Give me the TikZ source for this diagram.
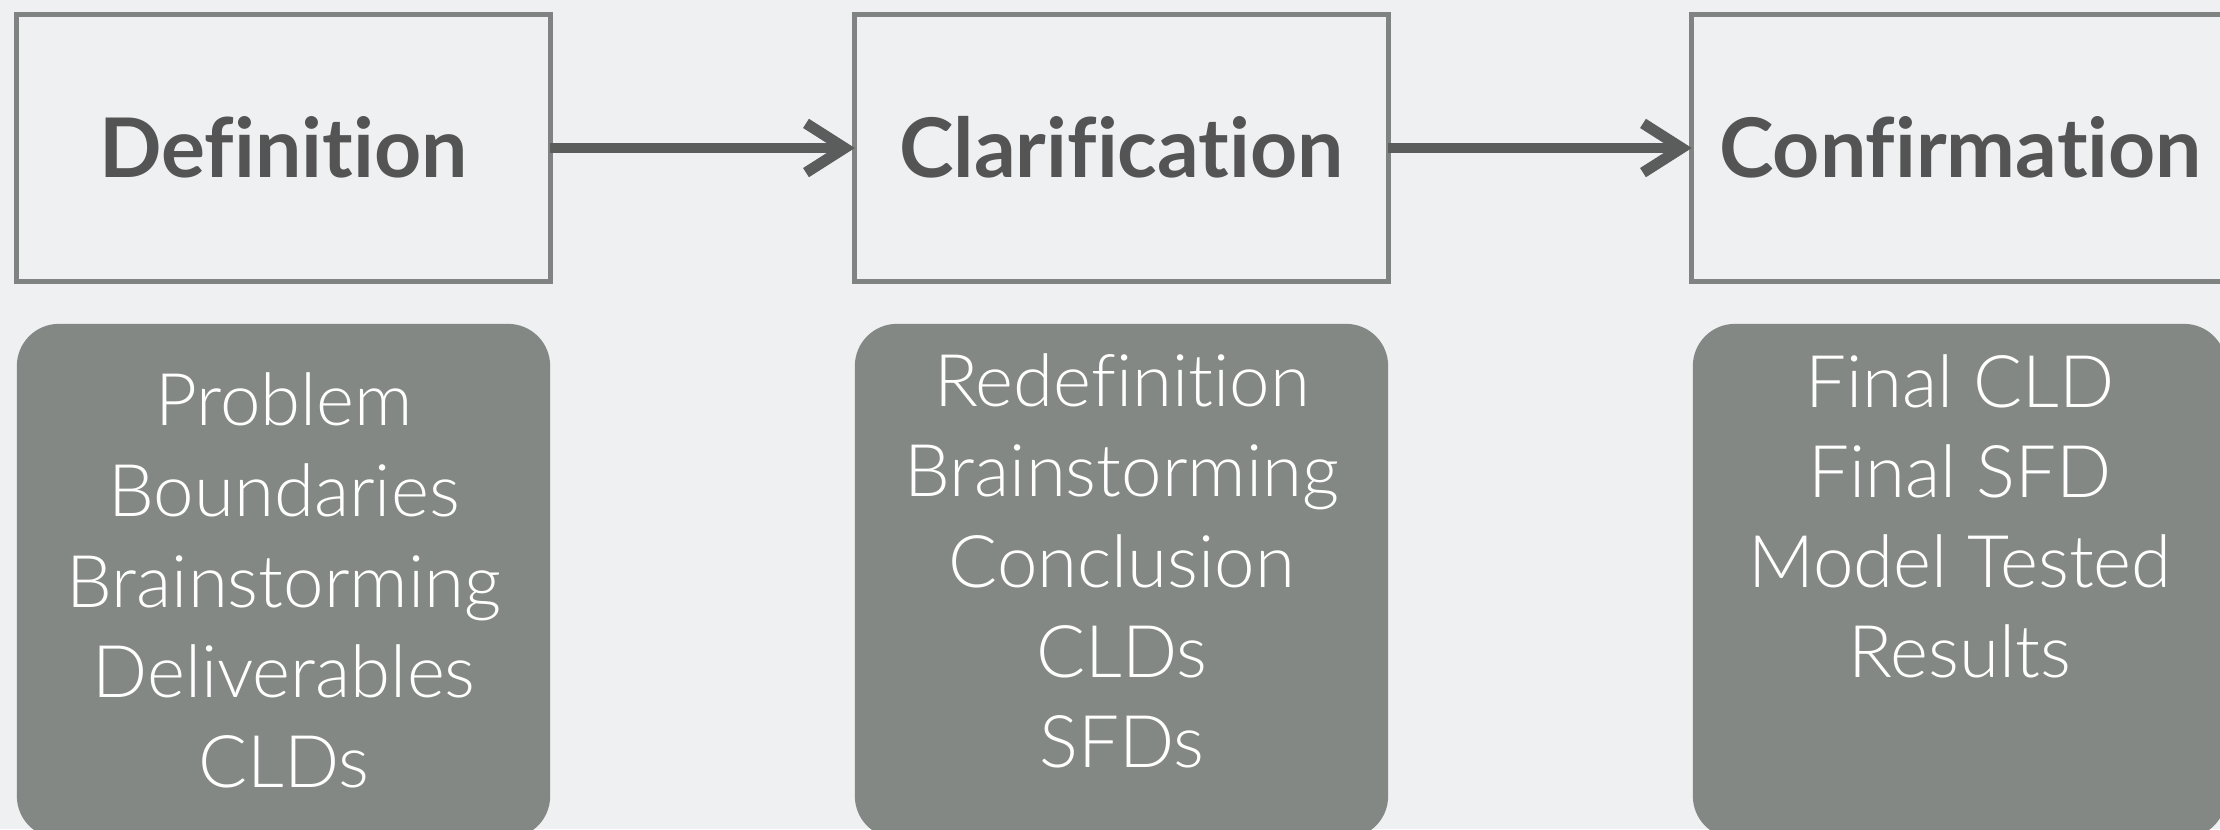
\documentclass[tikz,border=0pt]{standalone}
\usepackage{fontspec}
\usetikzlibrary{arrows.meta}
\IfFontExistsTF{Lato Light}{\newfontfamily\bodyfont{Lato Light}[Ligatures=NoCommon]}{\newfontfamily\bodyfont{Lato}[Ligatures=NoCommon]}
\newfontfamily\titlefont{Lato}[Ligatures=NoCommon]
\definecolor{bg}{HTML}{EEF0F2}
\definecolor{bordergray}{HTML}{7F8482}
\definecolor{fillgray}{HTML}{838885}
\definecolor{titlegray}{HTML}{545454}
\definecolor{arrowgray}{HTML}{5A5D5C}
\begin{document}
\begin{tikzpicture}[x=0.01cm,y=-0.01cm,
  stagebox/.style={draw=bordergray, line width=1.45pt, minimum width=5.33cm, minimum height=2.66cm, inner sep=0pt, outer sep=0pt},
  itembox/.style={fill=fillgray, rounded corners=0.42cm, minimum width=5.33cm, minimum height=5.14cm, inner sep=0pt},
  titletext/.style={text=titlegray, font=\titlefont\bfseries\fontsize{23.4pt}{28pt}\selectfont, anchor=base, inner sep=0pt},
  itemtext/.style={text=white, font=\bodyfont\fontsize{20.65pt}{25.6pt}\selectfont, anchor=base, inner sep=0pt},
  flow/.style={draw=arrowgray, line width=3.1pt, -{Straight Barb[length=11pt,width=14pt]}}
]
\useasboundingbox (0,0) rectangle (2220,829);
\fill[bg] (0,0) rectangle (2220,829);
\clip (0,0) rectangle (2220,829);

% stage boxes
\node[stagebox] (def) at (283.5,148) {};
\node[stagebox] (cla) at (1121.5,148) {};
\node[stagebox] (con) at (1958.5,148) {};

\node[titletext] (deft) at (283.5,177) {Definition};
\node[titletext] (clat) at (1121.5,177) {Clarification};
\node[titletext] (cont) at (1960.5,177) {Confirmation};

% connectors
\draw[flow] (def.east) -- (cla.west);
\draw[flow] (cla.east) -- (con.west);

% item boxes
\node[itembox] (defi) at (283.5,581) {};
\node[itembox] (clai) at (1121.5,581) {};
\node[itembox] (coni) at (1959.5,581) {};

\node[itemtext] (d1) at (284,425) {Problem};
\node[itemtext] (d2) at (284,516) {Boundaries};
\node[itemtext] (d3) at (284,607) {Brainstorming};
\node[itemtext] (d4) at (284,697) {Deliverables};
\node[itemtext] (d5) at (284,787) {CLDs};

\node[itemtext] (c1) at (1122,406) {Redefinition};
\node[itemtext] (c2) at (1122,496) {Brainstorming};
\node[itemtext] (c3) at (1122,587) {Conclusion};
\node[itemtext] (c4) at (1122,677) {CLDs};
\node[itemtext] (c5) at (1122,767) {SFDs};

\node[itemtext] (f1) at (1960,407) {Final CLD};
\node[itemtext] (f2) at (1960,497) {Final SFD};
\node[itemtext] (f3) at (1960,587) {Model Tested};
\node[itemtext] (f4) at (1960,677) {Results};
\end{tikzpicture}
\end{document}
